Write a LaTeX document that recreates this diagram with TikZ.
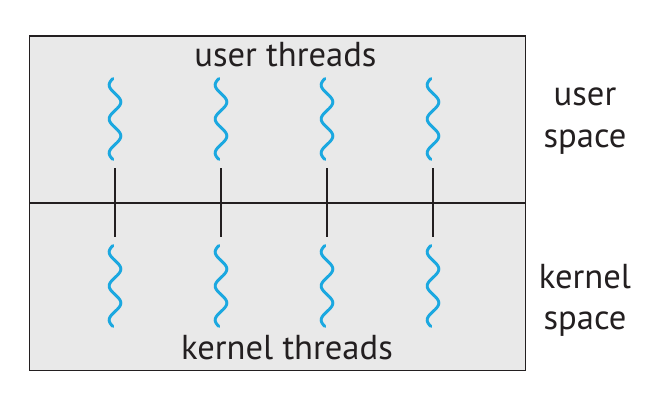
\documentclass[tikz,border=0pt]{standalone}
\usepackage{fontspec}
\setmainfont{PT Sans}
\definecolor{wavecol}{RGB}{27,168,224}
\definecolor{inkcol}{RGB}{35,31,32}
\definecolor{boxfill}{RGB}{233,233,233}

\begin{document}
\begin{tikzpicture}[x=0.025cm,y=-0.025cm,
	tlabel/.style={inner sep=0pt,anchor=base,text=inkcol,font=\fontsize{24.6}{30}\selectfont},
	wave/.style={wavecol,line width=2.1pt,line cap=round},
	frameline/.style={inkcol,line width=1.4pt}]
	\useasboundingbox (0,0) rectangle (656,408);
	\draw[frameline,fill=boxfill] (29.5,36) rectangle (525.5,370.5);
	\draw[frameline] (29.5,203) -- (525.5,203);
	\foreach \cx in {115,221,327,433} {
		\draw[frameline] (\cx,168) -- (\cx,237);
		\draw[wave] plot [domain=0.62:5.38,samples=80,smooth] ({\cx+5.8*cos(\x*180)},{85+(\x-1)*17});
		\draw[wave] plot [domain=0.62:5.38,samples=80,smooth] ({\cx+5.8*cos(\x*180)},{252+(\x-1)*17});
	}
	\node[tlabel] (ut) at (285.5,66) {user threads};
	\node[tlabel] (kt) at (287,359) {kernel threads};
	\node[tlabel] (us1) at (585,105) {user};
	\node[tlabel] (us2) at (585,147) {space};
	\node[tlabel] (ks1) at (585,288) {kernel};
	\node[tlabel] (ks2) at (585,329) {space};
\end{tikzpicture}
\end{document}
